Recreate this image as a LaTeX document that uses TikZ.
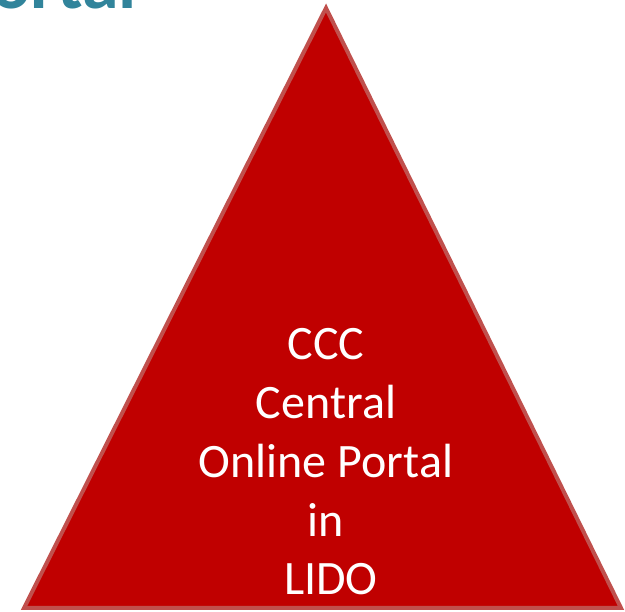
\documentclass[tikz,border=0pt]{standalone}
\usepackage{fontspec}
\setmainfont{Carlito}
\definecolor{tri}{HTML}{C00000}
\definecolor{triedge}{HTML}{C0504D}
\definecolor{teal}{HTML}{31849B}
\tikzset{
  tritext/.style={text=white, font=\fontsize{48bp}{58.75bp}\selectfont, anchor=base, inner sep=0pt},
  titletext/.style={text=teal, font=\fontsize{74bp}{88bp}\selectfont\bfseries, anchor=base east, inner sep=0pt}
}
\begin{document}
\begin{tikzpicture}[x=1bp, y=1bp]
\useasboundingbox (0,0) rectangle (625,612);
\node[titletext] (title) at (137,603) {Portal};
\coordinate (apex) at (326,604);
\coordinate (bl) at (24,4);
\coordinate (br) at (621,4);
\draw[fill=tri, draw=triedge, line width=4bp] (apex) -- (br) -- (bl) -- cycle;
\node[tritext] (l1) at (326,252) {CCC};
\node[tritext] (l2) at (326,193.25) {Central};
\node[tritext] (l3) at (326,134.5) {Online Portal};
\node[tritext] (l4) at (326,75.75) {in};
\node[tritext] (l5) at (331,17) {LIDO};
\end{tikzpicture}
\end{document}
